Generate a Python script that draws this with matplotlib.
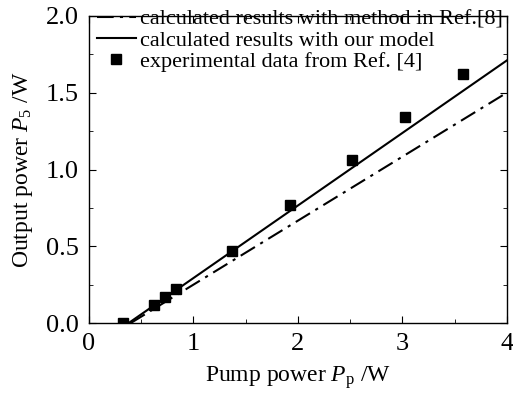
import matplotlib
matplotlib.use("Agg")
import matplotlib.pyplot as plt
from matplotlib.ticker import MultipleLocator, FormatStrFormatter

plt.rcParams['font.family'] = ['Liberation Serif', 'DejaVu Serif']
plt.rcParams['mathtext.fontset'] = 'custom'
plt.rcParams['mathtext.it'] = 'Liberation Serif:italic'
plt.rcParams['mathtext.rm'] = 'Liberation Serif'

# data
exp_x = [0.33, 0.62, 0.73, 0.83, 1.37, 1.93, 2.52, 3.03, 3.58]
exp_y = [0.0, 0.12, 0.17, 0.22, 0.47, 0.77, 1.06, 1.34, 1.62]
ref8_x = [0.40, 4.0]
ref8_y = [0.0, 1.50]
model_x = [0.38, 4.0]
model_y = [0.0, 1.71]

fig = plt.figure(figsize=(5.13, 3.97), dpi=100)
ax = fig.add_axes([0.173, 0.186, 0.815, 0.774])

ax.plot(ref8_x, ref8_y, color='black', lw=1.5, linestyle=(0, (8, 3, 1.5, 3)),
        label='calculated results with method in Ref.[8]')
ax.plot(model_x, model_y, color='black', lw=1.5, linestyle='-',
        label='calculated results with our model')
ax.plot(exp_x, exp_y, 's', color='black', ms=6.5, linestyle='none',
        label='experimental data from Ref. [4]')

ax.set_xlim(0, 4)
ax.set_ylim(0, 2.0)
ax.xaxis.set_major_locator(MultipleLocator(1))
ax.xaxis.set_minor_locator(MultipleLocator(0.5))
ax.yaxis.set_major_locator(MultipleLocator(0.5))
ax.yaxis.set_minor_locator(MultipleLocator(0.25))
ax.yaxis.set_major_formatter(FormatStrFormatter('%.1f'))
ax.tick_params(which='both', direction='in', top=True, right=True, labelsize=19)
ax.tick_params(which='major', length=5, pad=7)
ax.tick_params(which='minor', length=3)
for s in ax.spines.values():
    s.set_linewidth(1.0)

ax.set_xlabel(r'Pump power $P_{\mathrm{p}}$ /W', fontsize=17, labelpad=7)
ax.set_ylabel(r'Output power $P_{5}$ /W', fontsize=17, labelpad=8)

ax.legend(loc='upper left', frameon=False, fontsize=16, handlelength=1.75,
          handletextpad=0.22, labelspacing=0.02, borderaxespad=0.0, borderpad=0.0,
          bbox_to_anchor=(0.019, 1.022))

fig.savefig('out.png', dpi=100)
